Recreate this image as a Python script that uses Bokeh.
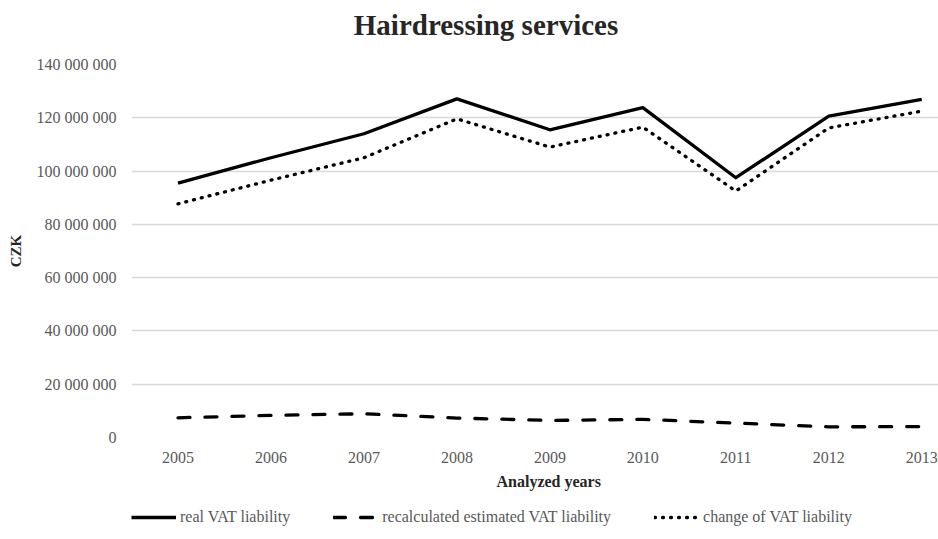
from bokeh.plotting import figure
from bokeh.layouts import column
from bokeh.models import FixedTicker, Legend, LegendItem, Title, Range1d, Div
from bokeh.embed import file_html
from bokeh.resources import INLINE

# ---- data ----
years = [2005, 2006, 2007, 2008, 2009, 2010, 2011, 2012, 2013]
real_vat = [95.5e6, 105.0e6, 114.0e6, 127.1e6, 115.5e6, 123.8e6, 97.5e6, 120.6e6, 126.9e6]
recalc_vat = [7.4e6, 8.3e6, 8.9e6, 7.3e6, 6.4e6, 6.8e6, 5.4e6, 4.0e6, 4.1e6]
change_vat = [87.7e6, 96.6e6, 105.0e6, 119.6e6, 109.0e6, 116.5e6, 92.5e6, 116.2e6, 122.5e6]
y_ticks = [0, 20e6, 40e6, 60e6, 80e6, 100e6, 120e6, 140e6]
y_tick_labels = ["0", "20 000 000", "40 000 000", "60 000 000", "80 000 000",
                 "100 000 000", "120 000 000", "140 000 000"]
x_tick_labels = [str(y) for y in years]
series_names = ["real VAT liability", "recalculated estimated VAT liability",
                "change of VAT liability"]
chart_title = "Hairdressing services"

FONT = "Liberation Serif"
TICK_COLOR = "#595959"
DARK = "#262626"

STYLES = [dict(line_color="black", line_width=3.3, line_join="round"),
          dict(line_color="black", line_width=3.3, line_dash="12 15",
               line_cap="round", line_join="round"),
          dict(line_color="black", line_width=3.3, line_dash="1 7",
               line_cap="round", line_join="round")]

# title strip
title_div = Div(text=chart_title, width=938, height=50, margin=0,
                styles={"font-family": FONT, "font-size": "29px",
                        "font-weight": "bold", "color": DARK,
                        "text-align": "center", "line-height": "34px",
                        "padding-top": "8px", "padding-left": "34px",
                        "box-sizing": "border-box", "white-space": "nowrap"})

p = figure(width=938, height=455, output_backend="svg", toolbar_location=None,
           title=None,
           x_range=Range1d(2004.5, 2013.18), y_range=Range1d(0, 140e6),
           min_border_left=131, min_border_right=0, min_border_top=14,
           min_border_bottom=68)
p.outline_line_color = None
p.background_fill_color = "white"
p.border_fill_color = "white"

# grid
p.xgrid.grid_line_color = None
p.ygrid.grid_line_color = "#d9d9d9"
p.ygrid.grid_line_width = 1.3

# x axis
p.xaxis.ticker = FixedTicker(ticks=years)
p.xaxis.major_label_overrides = {y: lab for y, lab in zip(years, x_tick_labels)}
p.xaxis.axis_line_color = None
p.xaxis.major_tick_line_color = None
p.xaxis.minor_tick_line_color = None
p.xaxis.major_tick_out = 0
p.xaxis.major_tick_in = 0
p.xaxis.major_label_standoff = 14
p.xaxis.major_label_text_font = FONT
p.xaxis.major_label_text_font_size = "16px"
p.xaxis.major_label_text_color = TICK_COLOR

# y axis
p.yaxis.ticker = FixedTicker(ticks=y_ticks)
p.yaxis.major_label_overrides = {t: lab for t, lab in zip(y_ticks, y_tick_labels)}
p.yaxis.axis_line_color = None
p.yaxis.major_tick_line_color = None
p.yaxis.minor_tick_line_color = None
p.yaxis.major_tick_out = 0
p.yaxis.major_tick_in = 0
p.yaxis.major_label_standoff = 15
p.yaxis.major_label_text_font = FONT
p.yaxis.major_label_text_font_size = "16px"
p.yaxis.major_label_text_color = TICK_COLOR
p.yaxis.axis_label = "CZK"
p.yaxis.axis_label_standoff = 10
p.yaxis.axis_label_text_font = FONT
p.yaxis.axis_label_text_font_size = "15px"
p.yaxis.axis_label_text_font_style = "bold"
p.yaxis.axis_label_text_color = DARK

# x axis title (Title so it can be placed like the original)
xt = Title(text="Analyzed years", align="left", offset=365, standoff=10,
           text_font=FONT, text_font_size="16px", text_font_style="bold",
           text_color=DARK)
p.add_layout(xt, "below")

# lines
series = [real_vat, recalc_vat, change_vat]
for vals, st in zip(series, STYLES):
    p.line(years, vals, **st)

# legend strip below the chart (its lines lie outside its visible range)
lf = figure(width=938, height=34, output_backend="svg", toolbar_location=None,
            x_range=Range1d(0, 938), y_range=Range1d(0, 34),
            min_border_left=0, min_border_right=0, min_border_top=0,
            min_border_bottom=0)
lf.axis.visible = False
lf.grid.visible = False
lf.outline_line_color = None
lf.background_fill_color = "white"
lf.border_fill_color = "white"
lrs = [lf.line(years, vals, **st) for vals, st in zip(series, STYLES)]

legend = Legend(items=[LegendItem(label=n, renderers=[r]) for n, r in zip(series_names, lrs)],
                orientation="horizontal", location=(0, 12),
                glyph_width=45, glyph_height=20, label_height=20,
                label_standoff=4, spacing=43, padding=0, margin=0,
                border_line_color=None, background_fill_alpha=0,
                label_text_font=FONT, label_text_font_size="16px",
                label_text_color=TICK_COLOR)
lf.add_layout(legend)

layout = column(title_div, p, lf, spacing=0)
open("out.html", "w").write(file_html(layout, INLINE))
